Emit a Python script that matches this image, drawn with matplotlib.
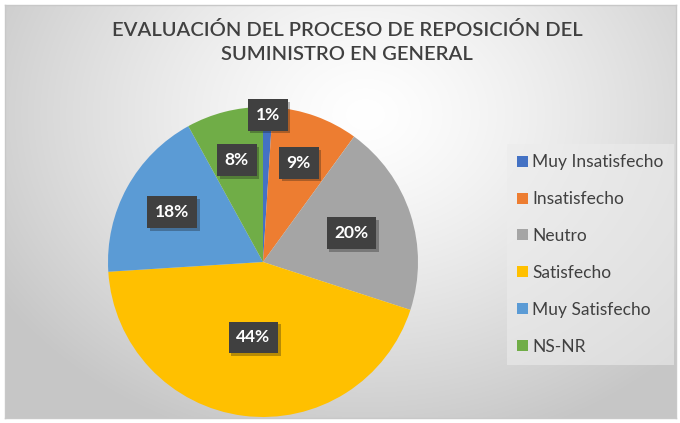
import matplotlib.pyplot as plt
import matplotlib.patheffects as pe
import numpy as np

categories = ['Muy Insatisfecho', 'Insatisfecho', 'Neutro', 'Satisfecho', 'Muy Satisfecho', 'NS-NR']
values = [1, 9, 20, 44, 18, 8]
colors = ['#4472C4', '#ED7D31', '#A5A5A5', '#FFC000', '#5B9BD5', '#70AD47']
# radial position of each label as a fraction of the radius (Excel "best fit")
label_r = [0.95, 0.68, 0.60, 0.49, 0.67, 0.68]

plt.rcParams['font.family'] = ['Lato', 'DejaVu Sans']

W, H = 680, 423
fig = plt.figure(figsize=(W / 100, H / 100), dpi=100)
fig.patch.set_facecolor('white')

# gradient background inside the chart frame
bg = fig.add_axes([5 / W, 5 / H, 671 / W, 413 / H])
yy, xx = np.mgrid[0:413, 0:671]
d = np.sqrt(((xx - 360) / 430) ** 2 + ((yy - 110) / 340) ** 2)
shade = 1.0 - 0.22 * np.clip(d, 0, 1) ** 1.3
bg.imshow(np.dstack([shade] * 3), aspect='auto', extent=[0, 1, 0, 1])
bg.set_xticks([])
bg.set_yticks([])
for s in bg.spines.values():
    s.set_color('#c8c8c8')
    s.set_linewidth(1)

fig.text(347 / W, 1 - 42 / H, 'EVALUACIÓN DEL PROCESO DE REPOSICIÓN DEL\nSUMINISTRO EN GENERAL',
         ha='center', va='center', fontsize=14.5, color='#404040',
         fontweight='semibold', linespacing=1.45)

cx, cy, r = 263, 262, 155
ax = fig.add_axes([(cx - r) / W, (H - cy - r) / H, 2 * r / W, 2 * r / H])
wedges, texts = ax.pie(values, colors=colors, startangle=90, counterclock=False,
                       radius=1.0, wedgeprops=dict(linewidth=0))
ax.set_xlim(-1, 1)
ax.set_ylim(-1, 1)
ax.set_aspect('equal')

for w, v, lr in zip(wedges, values, label_r):
    ang = np.deg2rad((w.theta1 + w.theta2) / 2)
    t = ax.text(lr * np.cos(ang), lr * np.sin(ang), f'{v}%', ha='center', va='center',
                fontsize=12.5, fontweight='bold', color='white',
                bbox=dict(boxstyle='square,pad=0.45', fc='#404040', ec='none'))
    t.get_bbox_patch().set_path_effects([pe.SimplePatchShadow(offset=(2, -2), alpha=0.3),
                                         pe.Normal()])

leg = fig.legend(wedges, categories, loc='upper left',
                 bbox_to_anchor=(507 / W, 1 - 144 / H), frameon=True,
                 fontsize=12.5, labelcolor='#404040', handlelength=0.6, handleheight=0.6,
                 handletextpad=0.25, labelspacing=1.2, borderpad=0.6, borderaxespad=0,
                 fancybox=False)
leg.get_frame().set_facecolor('#ececec')
leg.get_frame().set_edgecolor('none')
leg.get_frame().set_alpha(0.6)

fig.savefig('out.png', dpi=100)
